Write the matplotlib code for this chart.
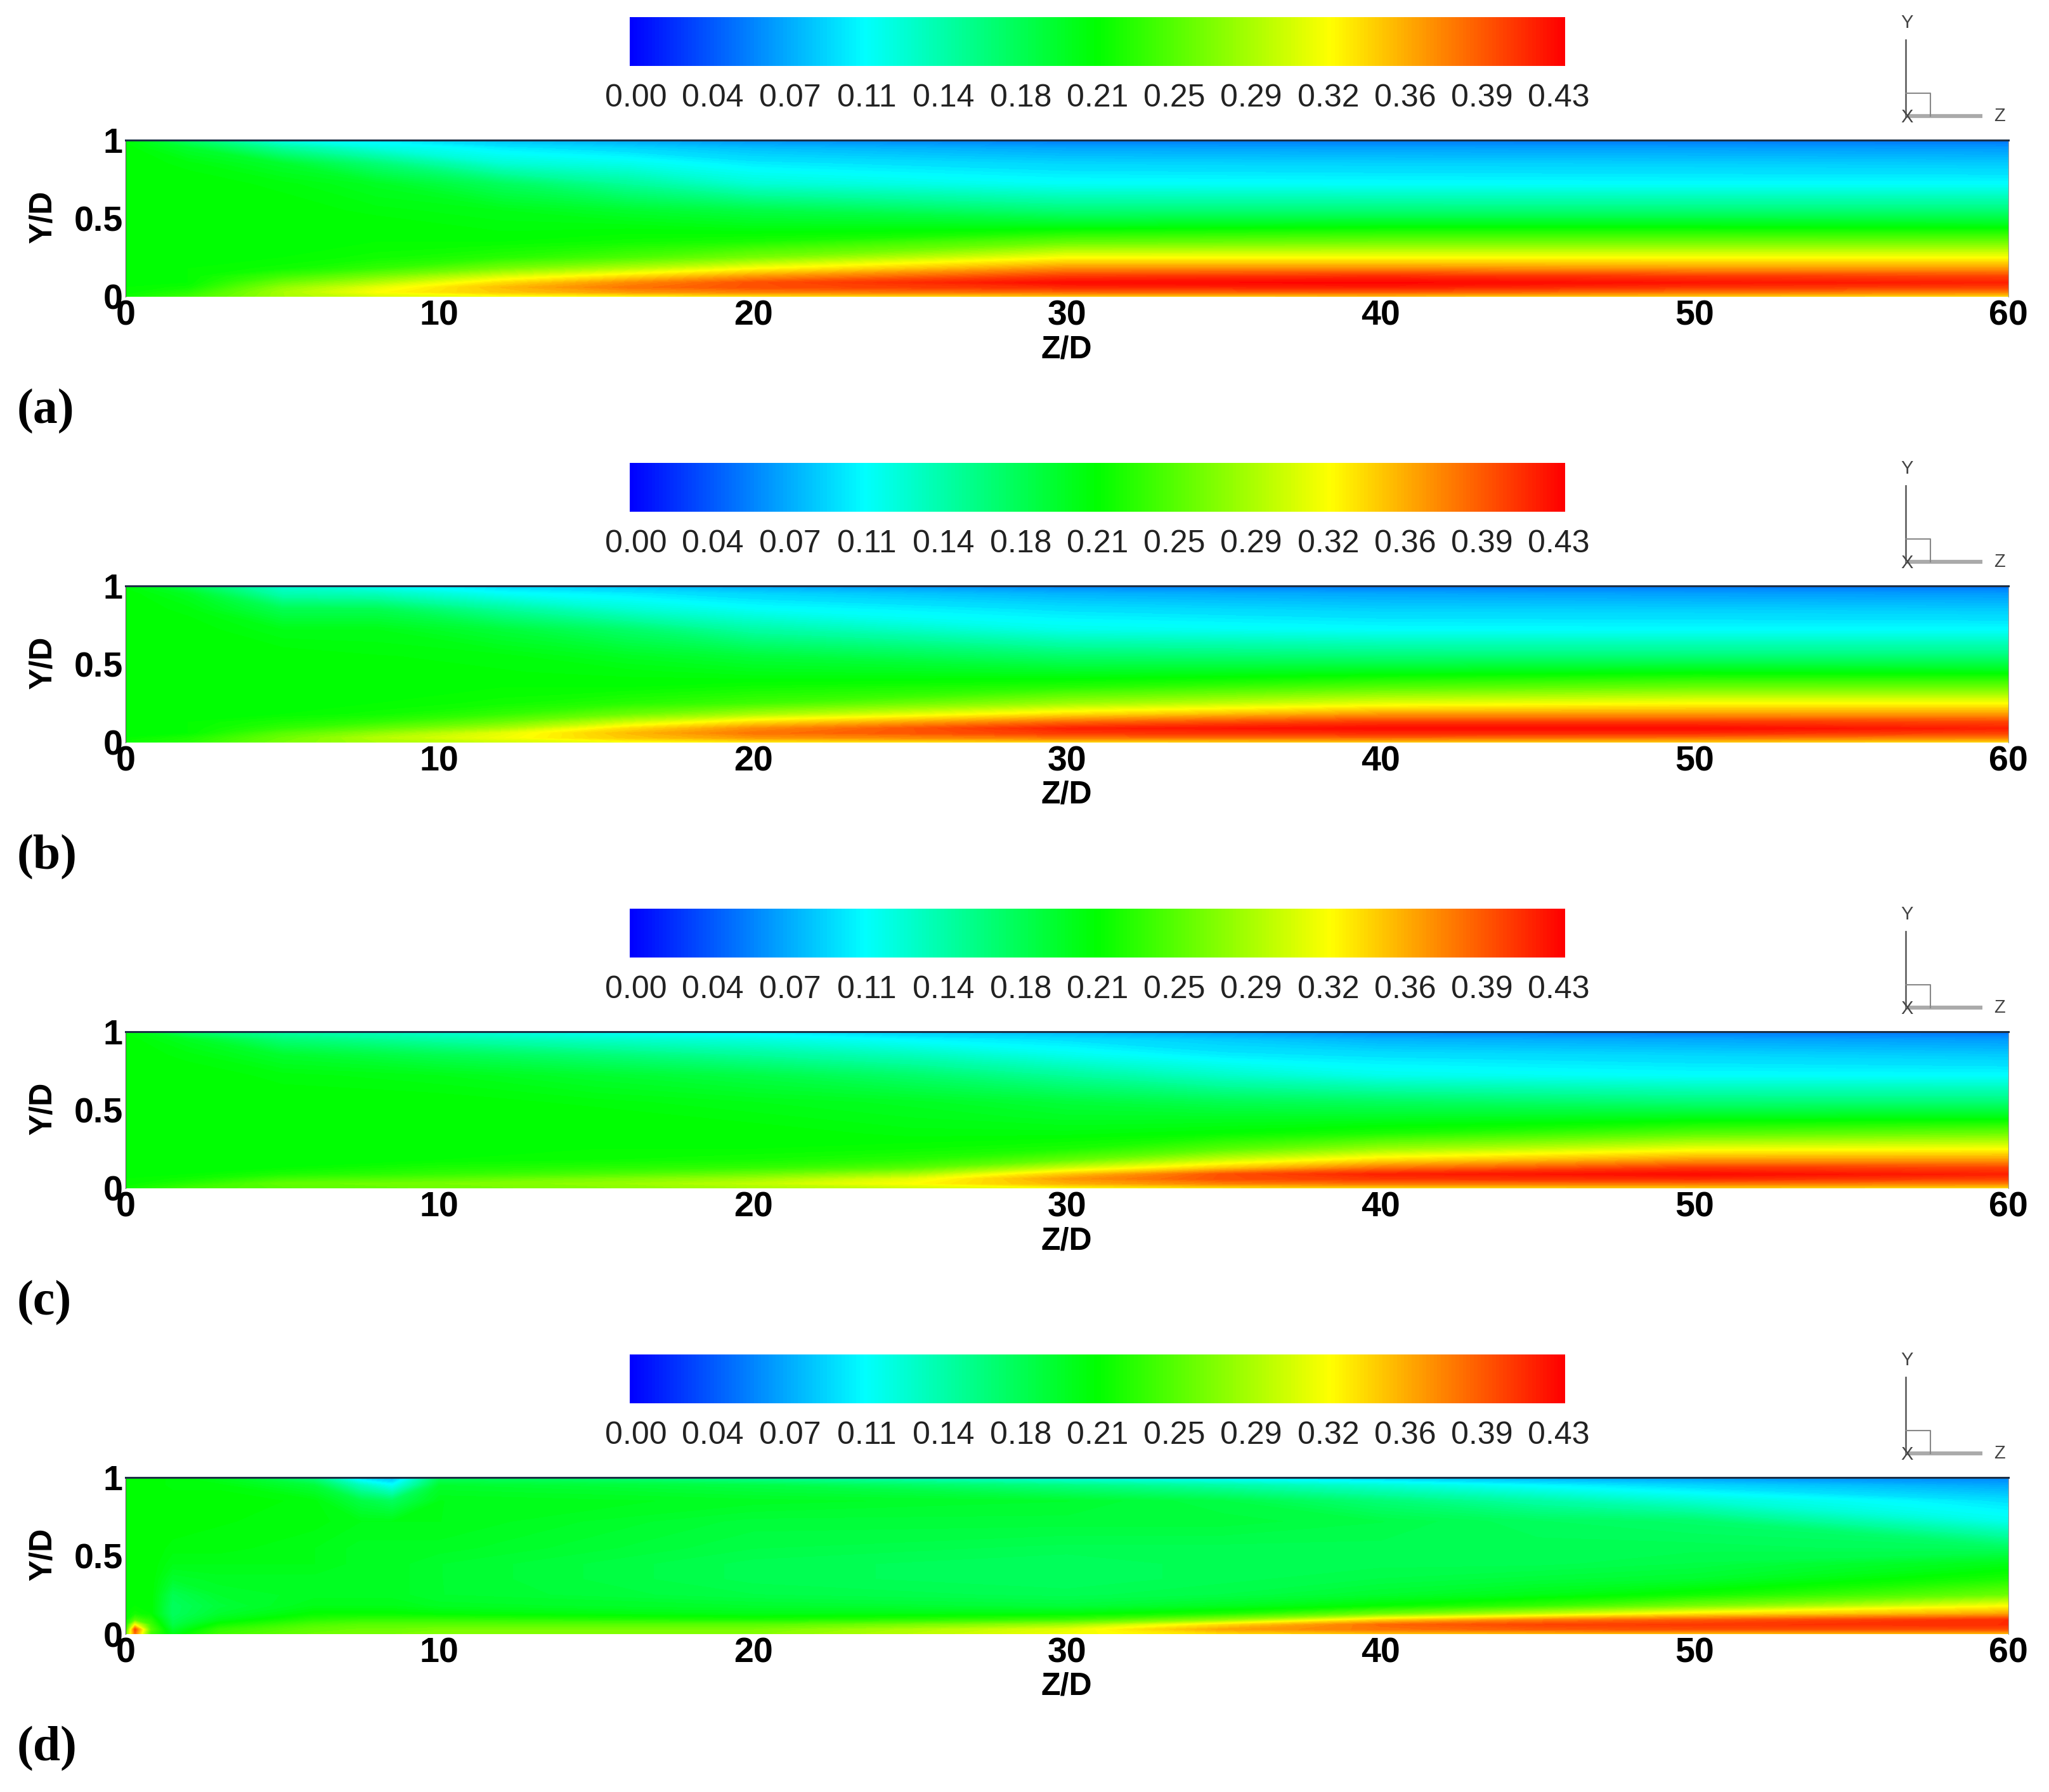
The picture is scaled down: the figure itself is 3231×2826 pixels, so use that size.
import numpy as np
import matplotlib
matplotlib.use("Agg")
import matplotlib.pyplot as plt
from matplotlib.colors import LinearSegmentedColormap

W, H = 3231, 2826
panel_step = 703

y_stations = [0, .03, .06, .09, .13, .18, .25, .35, .45, .55, .72, .85, .95, 1]

z_a = [0, 2, 5, 8, 12, 16, 20, 30, 40, 50, 60]
field_a = [
    [.22, .215, .215, .215, .215, .215, .215, .215, .215, .215, .215, .215, .215, .21],
    [.24, .23, .22, .215, .215, .215, .215, .215, .215, .215, .215, .21, .195, .17],
    [.285, .285, .275, .26, .24, .22, .215, .215, .215, .215, .21, .195, .15, .115],
    [.305, .32, .31, .29, .265, .235, .22, .215, .215, .21, .20, .165, .12, .10],
    [.315, .345, .35, .335, .305, .265, .23, .215, .21, .205, .175, .125, .10, .08],
    [.32, .365, .38, .37, .335, .29, .245, .22, .21, .195, .15, .115, .09, .07],
    [.33, .375, .395, .395, .365, .32, .265, .225, .205, .185, .125, .10, .08, .06],
    [.34, .385, .41, .425, .405, .37, .32, .255, .205, .165, .11, .09, .07, .05],
    [.345, .39, .415, .428, .41, .37, .32, .26, .21, .165, .108, .088, .068, .05],
    [.34, .38, .405, .42, .405, .365, .32, .26, .21, .165, .107, .087, .067, .05],
    [.335, .375, .40, .415, .40, .365, .32, .26, .208, .165, .107, .085, .065, .048],
]

z_b = [0, 2, 5, 8, 12, 16, 20, 30, 40, 50, 60]
field_b = [
    [.22, .215, .215, .215, .215, .215, .215, .215, .215, .215, .215, .215, .215, .21],
    [.23, .225, .215, .215, .215, .215, .215, .215, .215, .215, .215, .21, .20, .18],
    [.265, .26, .25, .235, .225, .215, .215, .215, .215, .215, .205, .18, .14, .125],
    [.285, .29, .275, .255, .235, .22, .215, .215, .215, .212, .205, .18, .135, .11],
    [.30, .315, .31, .285, .26, .235, .22, .215, .212, .21, .19, .15, .11, .09],
    [.315, .345, .35, .335, .30, .26, .23, .215, .21, .20, .17, .125, .10, .08],
    [.325, .365, .38, .37, .335, .285, .24, .22, .205, .19, .145, .11, .09, .07],
    [.335, .38, .405, .415, .385, .335, .28, .23, .20, .17, .115, .095, .075, .055],
    [.34, .385, .41, .425, .405, .365, .31, .25, .205, .165, .108, .088, .07, .05],
    [.34, .38, .41, .425, .405, .365, .32, .26, .21, .165, .107, .087, .067, .05],
    [.335, .375, .40, .415, .40, .365, .32, .26, .208, .165, .107, .085, .065, .048],
]

z_c = [0, 2, 5, 10, 15, 20, 25, 30, 35, 40, 50, 60]
field_c = [
    [.22, .215, .215, .215, .215, .215, .215, .215, .215, .215, .215, .215, .215, .21],
    [.24, .23, .22, .215, .215, .215, .215, .215, .215, .215, .215, .21, .20, .17],
    [.25, .255, .24, .225, .215, .215, .215, .215, .215, .215, .21, .195, .165, .145],
    [.26, .265, .25, .235, .225, .215, .215, .215, .215, .215, .205, .18, .145, .125],
    [.27, .275, .265, .245, .23, .218, .215, .215, .215, .21, .195, .165, .13, .11],
    [.285, .295, .28, .26, .235, .222, .215, .215, .21, .205, .185, .15, .12, .10],
    [.30, .32, .31, .285, .25, .23, .218, .21, .205, .20, .17, .135, .105, .085],
    [.32, .355, .365, .345, .30, .255, .225, .21, .20, .19, .15, .115, .095, .075],
    [.33, .375, .395, .395, .345, .30, .25, .215, .20, .18, .13, .10, .085, .065],
    [.335, .38, .405, .415, .38, .335, .28, .225, .20, .175, .115, .095, .075, .055],
    [.34, .38, .41, .425, .405, .365, .315, .25, .205, .165, .108, .09, .07, .05],
    [.335, .375, .40, .415, .40, .365, .32, .26, .208, .165, .107, .085, .065, .048],
]

z_d = [0, .3, .8, 1.5, 3, 6, 7.5, 8.5, 10, 20, 30, 35, 40, 45, 50, 60]
field_d = [
    [.25, .22, .215, .215, .215, .215, .215, .215, .215, .215, .215, .215, .215, .215],
    [.38, .40, .32, .25, .22, .215, .215, .215, .215, .215, .215, .215, .215, .215],
    [.24, .25, .24, .23, .215, .215, .215, .215, .215, .215, .215, .215, .215, .215],
    [.205, .195, .185, .18, .175, .175, .18, .195, .205, .21, .215, .215, .21, .21],
    [.24, .235, .22, .205, .195, .19, .195, .20, .205, .21, .212, .215, .21, .20],
    [.26, .255, .245, .23, .215, .205, .20, .20, .205, .205, .21, .21, .19, .16],
    [.265, .26, .25, .235, .215, .205, .20, .20, .20, .20, .205, .185, .135, .09],
    [.265, .26, .25, .235, .215, .205, .20, .20, .20, .20, .205, .175, .11, .075],
    [.27, .265, .25, .235, .212, .20, .195, .195, .195, .20, .205, .205, .195, .175],
    [.27, .265, .25, .225, .205, .195, .185, .18, .18, .185, .19, .20, .185, .15],
    [.315, .31, .28, .24, .21, .19, .18, .175, .175, .18, .19, .195, .16, .115],
    [.335, .36, .335, .275, .225, .20, .185, .18, .18, .18, .19, .185, .145, .10],
    [.345, .38, .385, .34, .26, .215, .195, .185, .18, .18, .185, .165, .125, .085],
    [.345, .39, .40, .375, .295, .235, .205, .19, .18, .18, .175, .145, .105, .07],
    [.345, .395, .405, .39, .33, .265, .22, .195, .185, .18, .17, .125, .09, .065],
    [.35, .395, .41, .41, .36, .32, .26, .225, .205, .175, .115, .095, .07, .055],
]

panel_labels = ["(a)", "(b)", "(c)", "(d)"]
panel_z = [z_a, z_b, z_c, z_d]
panel_fields = [field_a, field_b, field_c, field_d]

z_ticks = [0, 10, 20, 30, 40, 50, 60]
y_ticks = [0, 0.5, 1]
y_tick_labels = ["0", "0.5", "1"]
legend_labels = ["0.00", "0.04", "0.07", "0.11", "0.14", "0.18", "0.21",
                 "0.25", "0.29", "0.32", "0.36", "0.39", "0.43"]
vmax = 0.43

plt.rcParams["font.family"] = ["Liberation Sans", "DejaVu Sans"]
rainbow = LinearSegmentedColormap.from_list(
    "tecplot", ["#0000ff", "#00ffff", "#00ff00", "#ffff00", "#ff0000"], N=256)
levels = np.linspace(0, vmax, 129)


def px_axes(fig, left, top, right, bottom):
    return fig.add_axes([left / W, 1 - bottom / H, (right - left) / W, (bottom - top) / H])


fig = plt.figure(figsize=(W / 100, H / 100), dpi=100)
overlay = fig.add_axes([0, 0, 1, 1], zorder=5)
overlay.set_xlim(0, W)
overlay.set_ylim(H, 0)
overlay.axis("off")

for i in range(4):
    dy = i * panel_step

    ax = px_axes(fig, 198, 221 + dy, 3167, 468 + dy)
    ax.contourf(panel_z[i], y_stations, np.array(panel_fields[i]).T, levels=levels,
                cmap=rainbow, vmin=0, vmax=vmax, extend="both", antialiased=False)
    ax.set_xlim(0, 60)
    ax.set_ylim(0, 1)
    ax.set_xticks(z_ticks)
    ax.set_yticks(y_ticks, y_tick_labels)
    ax.tick_params(length=0, labelsize=40, pad=3)
    for lab in ax.get_xticklabels() + ax.get_yticklabels():
        lab.set_fontweight("bold")
    ax.spines["bottom"].set_visible(False)
    ax.spines["top"].set_color("#1c2f45")
    ax.spines["top"].set_linewidth(2.2)
    ax.spines["left"].set_color("#555555")
    ax.spines["right"].set_color("#999999")

    overlay.text(68, 342 + dy, "Y/D", rotation=90, ha="center", va="center",
                 fontsize=36, fontweight="bold")
    overlay.text(1682, 551 + dy, "Z/D", ha="center", va="center",
                 fontsize=36, fontweight="bold")
    overlay.text(27, 649 + dy, panel_labels[i], ha="left", va="center", fontsize=56,
                 family="Liberation Serif", fontweight="bold")

    # legend bar, ticks sit 10 px inside each end
    pad = 10 / 1455 * vmax
    cax = px_axes(fig, 993, 27 + dy, 2468, 104 + dy)
    cax.imshow(np.linspace(0, vmax, 256)[None, :], cmap=rainbow, vmin=0, vmax=vmax,
               aspect="auto", extent=[-pad, vmax + pad, 0, 1])
    cax.set_yticks([])
    cax.set_xticks(np.linspace(0, vmax, 13), legend_labels)
    cax.tick_params(length=0, labelsize=36, pad=20, labelcolor="#222222")
    for side in cax.spines.values():
        side.set_visible(False)

    # axis triad
    overlay.plot([3005, 3005], [63 + dy, 183 + dy], color="#666666", lw=2)
    overlay.plot([3005, 3126], [183 + dy, 183 + dy], color="#aaaaaa", lw=4.5, solid_capstyle="butt")
    overlay.plot([3005, 3044, 3044], [147 + dy, 147 + dy, 183 + dy], color="#888888", lw=1.5)
    overlay.text(3007, 36 + dy, "Y", ha="center", va="center", fontsize=21, color="#444444")
    overlay.text(3007, 185 + dy, "X", ha="center", va="center", fontsize=21, color="#444444")
    overlay.text(3153, 183 + dy, "Z", ha="center", va="center", fontsize=21, color="#444444")

fig.savefig("out.png", dpi=100)
